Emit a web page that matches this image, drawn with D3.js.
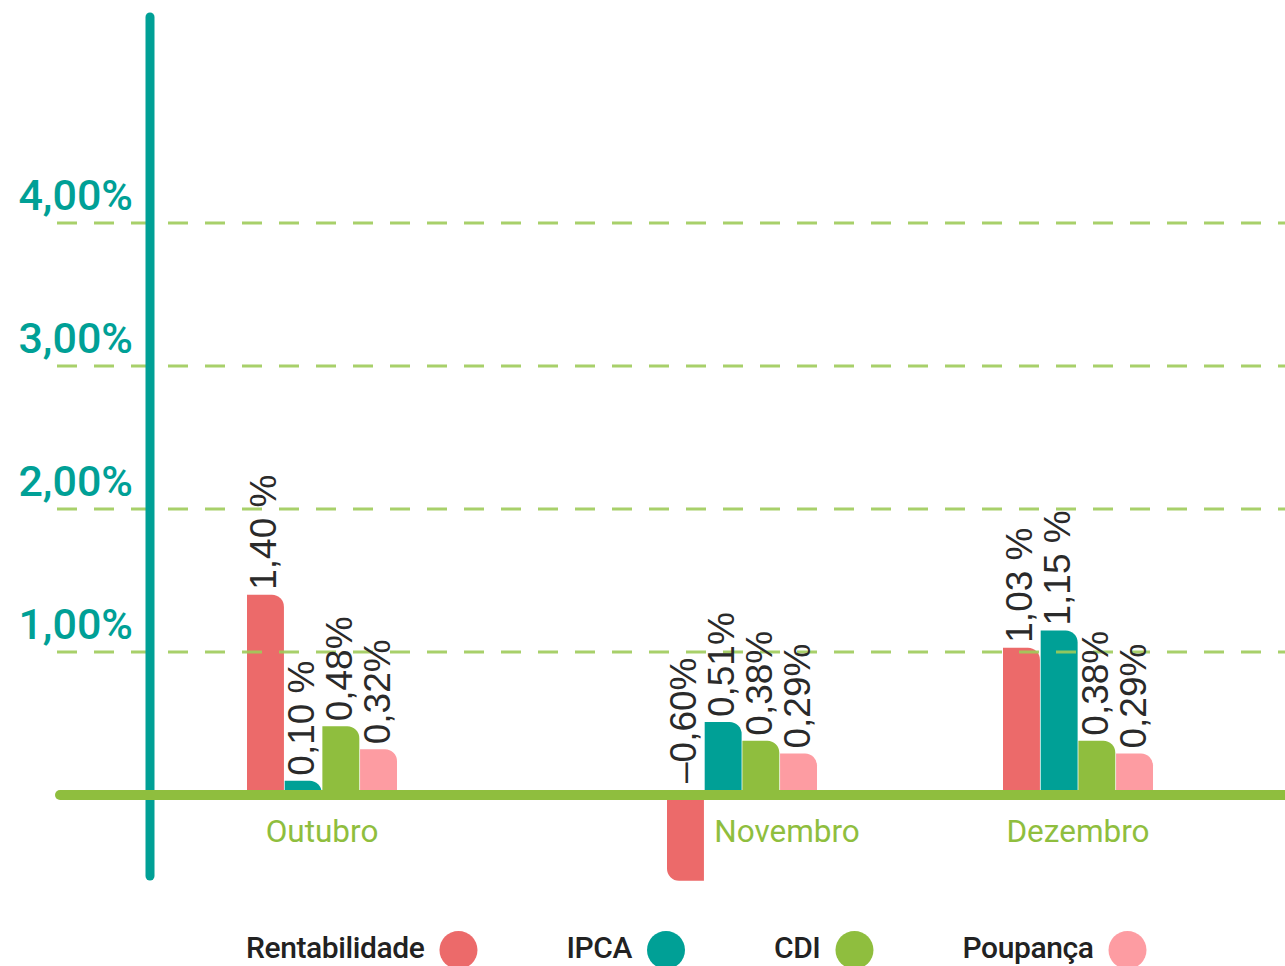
<!DOCTYPE html>
<html>
<head>
<meta charset="utf-8">
<script src="https://cdn.jsdelivr.net/npm/d3@7"></script>
<style>
  body { margin: 0; background: #fff; }
  svg { display: block; }
</style>
</head>
<body>
<script>
// Chart data
const months = ["Outubro", "Novembro", "Dezembro"];
const series = ["Rentabilidade", "IPCA", "CDI", "Poupança"];
const rentabilidade = [1.40, -0.60, 1.03];
const ipca = [0.10, 0.51, 1.15];
const cdi = [0.48, 0.38, 0.38];
const poupanca = [0.32, 0.29, 0.29];
const rentLabels = ["1,40 %", "\u20130,60%", "1,03 %"];
const ipcaLabels = ["0,10 %", "0,51%", "1,15 %"];
const cdiLabels = ["0,48%", "0,38%", "0,38%"];
const poupLabels = ["0,32%", "0,29%", "0,29%"];
const tickValues = [1, 2, 3, 4];
const tickLabels = ["1,00%", "2,00%", "3,00%", "4,00%"];

const colors = ["#ec6a6a", "#00a096", "#8fbe3e", "#fd9ca2"];
const values = [rentabilidade, ipca, cdi, poupanca];
const labels = [rentLabels, ipcaLabels, cdiLabels, poupLabels];

const width = 1285;
const height = 966;

const svg = d3.select("body").append("svg")
  .attr("width", width)
  .attr("height", height);

// y scale: 0% sits on the green baseline
const y = d3.scaleLinear().domain([0, 4]).range([795, 223]);

// months sit on uneven slots along the axis
const slots = d3.scalePoint().domain(d3.range(14)).range([154, 154 + 13 * 84]);
const monthSlot = [2, 7, 11];
const x1 = d3.scaleBand().domain(series).range([-75, 75]).paddingInner(0.02);

// flat table of bars
const bars = [];
months.forEach((m, i) => {
  series.forEach((s, j) => {
    bars.push({ month: m, i: i, series: s, j: j, value: values[j][i], label: labels[j][i] });
  });
});

// bar path with one rounded corner (top-right for positive, bottom-left for negative)
function barPath(d) {
  const cx = slots(monthSlot[d.i]);
  const x0 = cx + x1(d.series);
  const xr = x0 + x1.bandwidth();
  const y0 = y(0);
  const yv = y(d.value);
  const r = Math.min(12, Math.abs(y0 - yv), x1.bandwidth() / 2);
  if (d.value >= 0) {
    return `M${x0},${y0}V${yv}H${xr - r}A${r},${r} 0 0 1 ${xr},${yv + r}V${y0}Z`;
  }
  return `M${x0},${y0}H${xr}V${yv}H${x0 + r}A${r},${r} 0 0 1 ${x0},${yv - r}Z`;
}

svg.append("g").selectAll("path")
  .data(bars)
  .enter().append("path")
  .attr("d", barPath)
  .attr("fill", d => colors[d.j]);

// dashed gridlines, drawn over the bars
svg.append("g").selectAll("line")
  .data(tickValues)
  .enter().append("line")
  .attr("x1", 57)
  .attr("x2", width)
  .attr("y1", d => y(d))
  .attr("y2", d => y(d))
  .attr("stroke", "#9fcc5a")
  .attr("stroke-width", 3)
  .attr("stroke-dasharray", "20,17")
  .attr("opacity", 0.9);

// tick labels
svg.append("g").selectAll("text")
  .data(tickValues)
  .enter().append("text")
  .attr("x", 133)
  .attr("y", d => y(d) - 13)
  .attr("text-anchor", "end")
  .attr("font-family", "Roboto, sans-serif")
  .attr("font-weight", 500)
  .attr("font-size", 43)
  .attr("fill", "#00a096")
  .text((d, i) => tickLabels[i]);

// vertical axis
svg.append("line")
  .attr("x1", 150).attr("x2", 150)
  .attr("y1", 17).attr("y2", 876)
  .attr("stroke", "#00a096")
  .attr("stroke-width", 9)
  .attr("stroke-linecap", "round");

// baseline
svg.append("line")
  .attr("x1", 60).attr("x2", width + 20)
  .attr("y1", y(0)).attr("y2", y(0))
  .attr("stroke", "#8fbe3e")
  .attr("stroke-width", 10)
  .attr("stroke-linecap", "round");

// value labels, rotated
svg.append("g").selectAll("text")
  .data(bars)
  .enter().append("text")
  .attr("transform", d => {
    const cx = slots(monthSlot[d.i]) + x1(d.series) + x1.bandwidth() / 2;
    const top = d.value >= 0 ? y(d.value) - 5 : y(0) - 12;
    return `translate(${cx + 11},${top}) rotate(-90)`;
  })
  .attr("font-family", "'Liberation Sans', Arial, sans-serif")
  .attr("font-size", 37)
  .attr("fill", "#2a2a2a")
  .text(d => d.label);

// month labels (shifted right when a bar hangs below the baseline)
svg.append("g").selectAll("text")
  .data(months)
  .enter().append("text")
  .attr("x", (d, i) => slots(monthSlot[i]) + (values.some(v => v[i] < 0) ? 45 : 0))
  .attr("y", 842)
  .attr("text-anchor", "middle")
  .attr("font-family", "Roboto, sans-serif")
  .attr("font-size", 31.5)
  .attr("fill", "#8fbe3e")
  .text(d => d);

// legend
const legend = svg.append("g");
let lx = 246;
series.forEach((s, j) => {
  const t = legend.append("text")
    .attr("x", lx)
    .attr("y", 958)
    .attr("font-family", "Roboto, sans-serif")
    .attr("font-weight", 500)
    .attr("font-size", 30)
    .attr("letter-spacing", -0.4)
    .attr("fill", "#222")
    .text(s);
  const w = t.node().getComputedTextLength();
  const cx = lx + w + 34;
  legend.append("circle")
    .attr("cx", cx)
    .attr("cy", 950)
    .attr("r", 19)
    .attr("fill", colors[j]);
  lx = cx + 108;
});
</script>
</body>
</html>
